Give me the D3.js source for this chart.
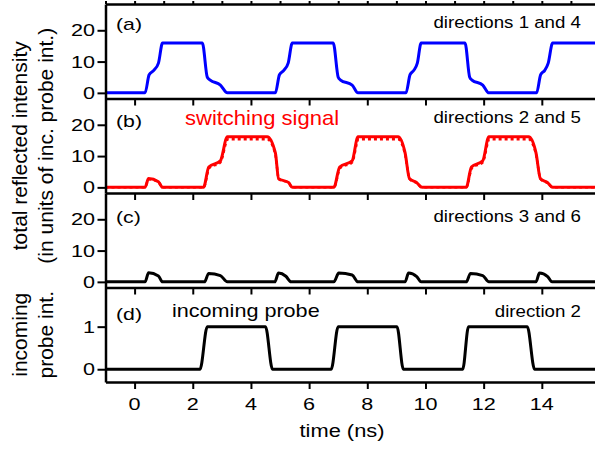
<!DOCTYPE html>
<html>
<head>
<meta charset="utf-8">
<script src="https://cdn.jsdelivr.net/npm/d3@7"></script>
<style>
  body { margin: 0; background: #fff; }
  svg { display: block; font-family: "Liberation Sans", Arial, sans-serif; }
</style>
</head>
<body>
<div id="chart"></div>
<script>
// time axis (ns)
var timeMajor = [0, 2, 4, 6, 8, 10, 12, 14];
var timeMinor = [-1, 1, 3, 5, 7, 9, 11, 13, 15];

// reflected intensity panels (a)-(c), incoming probe panel (d)
var intMajor = [0, 10, 20];
var intMinor = [5, 15, 25];
var probeMajor = [0, 1];
var probeMinor = [0.5, 1.5];

// (a) directions 1 and 4  [t, value]
var dir14 = [[-1,0],[0.36,0],[0.5,5.8],[0.66,7.2],[0.82,9.5],[0.96,15.9],[2.33,15.9],[2.5,5],[2.6,4.1],[2.95,2.5],[3.19,0],
  [4.84,0],[4.98,5.8],[5.13,7.2],[5.28,9.5],[5.42,15.9],[6.83,15.9],[7.0,5],[7.08,4.1],[7.48,2.5],[7.68,0],
  [9.33,0],[9.47,5.8],[9.6,7.2],[9.72,9.5],[9.85,15.9],[11.36,15.9],[11.52,5],[11.6,4.1],[11.97,2.5],[12.18,0],
  [13.82,0],[13.96,5.8],[14.1,7.2],[14.22,9.5],[14.37,15.9],[16,15.9]];

// (b) directions 2 and 5, solid and dotted
var dir25 = [[-1,0],[0.36,0],[0.48,2.8],[0.82,1.8],[0.96,0],
  [2.37,0],[2.55,6.5],[2.95,8.5],[3.19,16.2],[4.56,16.2],[4.84,11],[4.95,2.8],[5.3,1.5],[5.42,0],
  [6.85,0],[7.05,6.5],[7.48,8.5],[7.68,16.2],[9.06,16.2],[9.3,11],[9.45,2.8],[9.7,1.5],[9.88,0],
  [11.4,0],[11.58,6.5],[11.97,8.5],[12.18,16.2],[13.55,16.2],[13.8,11],[13.95,2.8],[14.2,1.5],[14.37,0],[16,0]];
var dir25b = [[-1,0],[0.36,0],[0.48,2.6],[0.82,1.7],[0.96,0],
  [2.37,0],[2.57,6.2],[2.95,8.0],[3.21,15.4],[4.56,15.4],[4.84,10.5],[4.96,2.6],[5.3,1.4],[5.42,0],
  [6.85,0],[7.07,6.2],[7.48,8.0],[7.7,15.4],[9.06,15.4],[9.3,10.5],[9.46,2.6],[9.7,1.4],[9.88,0],
  [11.4,0],[11.6,6.2],[11.97,8.0],[12.2,15.4],[13.55,15.4],[13.8,10.5],[13.96,2.6],[14.2,1.4],[14.37,0],[16,0]];

// (c) directions 3 and 6
var dir36 = [[-1,0],[0.36,0],[0.48,2.9],[0.82,1.9],[0.96,0],
  [2.4,0],[2.55,2.7],[2.95,2.0],[3.19,0],
  [4.82,0],[4.95,2.8],[5.2,1.8],[5.38,0],
  [6.85,0],[7.02,2.8],[7.48,2.2],[7.68,0],
  [9.3,0],[9.42,2.8],[9.7,1.7],[9.85,0],
  [11.4,0],[11.55,2.7],[11.97,2.0],[12.18,0],
  [13.8,0],[13.92,2.8],[14.2,1.7],[14.35,0],[16,0]];

// (d) incoming probe, direction 2
var probe = [[-1,0],[2.25,0],[2.5,1],[4.5,1],[4.74,0],[6.76,0],[7.0,1],[9.02,1],[9.24,0],
  [11.28,0],[11.48,1],[13.5,1],[13.75,0],[16,0]];

var W = 595, H = 452;
var svg = d3.select('#chart').append('svg').attr('width', W).attr('height', H);

var x = d3.scaleLinear().domain([-1, 16]).range([105.5, 600]);
var pTop = [4, 98.5, 193, 287.5], pH = 94.5;

function yScale(i, dom){
    return d3.scaleLinear().domain(dom).range([pTop[i] + pH, pTop[i]]);
}
var ys = [yScale(0, [-1.8, 28.4]), yScale(1, [-1.8, 28.4]), yScale(2, [-1.8, 28.4]), yScale(3, [-0.3, 1.92])];

function label(g, str, px, py, fs, sx, anchor, fill){
    return g.append('text')
        .attr('transform', 'translate(' + px + ',' + py + ') scale(' + sx + ',1)')
        .attr('text-anchor', anchor || 'start')
        .attr('fill', fill || '#000')
        .style('font-size', fs + 'px')
        .text(str);
}

function styleAxis(g){
    g.select('.domain').attr('stroke-width', 2.5);
    g.selectAll('.tick line').attr('stroke-width', 2);
}

var line = d3.line().x(function(d){ return x(d[0]); }).curve(d3.curveMonotoneX);

function drawSeries(i, data, color, dash){
    var y = ys[i];
    var p = svg.append('path').datum(data)
        .attr('d', line.y(function(d){ return y(d[1]); }))
        .attr('fill', 'none').attr('stroke', color)
        .attr('stroke-width', dash ? 2.5 : 3)
        .attr('stroke-linejoin', 'round');
    if (dash) p.attr('stroke-dasharray', dash);
}

drawSeries(0, dir14, '#0000ff');
drawSeries(1, dir25, '#ff0000');
drawSeries(1, dir25b, '#ff0000', '3,3');
drawSeries(2, dir36, '#000');
drawSeries(3, probe, '#000');

// axes
var ax = svg.append('g');
for (var i = 0; i < 4; i++){
    var y = ys[i];
    var maj = i < 3 ? intMajor : probeMajor;
    var mnr = i < 3 ? intMinor : probeMinor;
    var bottom = pTop[i] + pH;

    var gb = ax.append('g').attr('transform', 'translate(0,' + bottom + ')');
    gb.call(d3.axisBottom(x).tickValues(timeMinor).tickSize(4).tickSizeOuter(0).tickFormat(''));
    gb.call(d3.axisBottom(x).tickValues(timeMajor).tickSize(7).tickSizeOuter(0).tickFormat(''));
    styleAxis(gb);

    var gl = ax.append('g').attr('transform', 'translate(105.5,0)');
    gl.call(d3.axisLeft(y).tickValues(mnr).tickSize(4).tickSizeOuter(0).tickFormat(''));
    gl.call(d3.axisLeft(y).tickValues(maj).tickSize(8).tickSizeOuter(0).tickFormat(''));
    styleAxis(gl);

    maj.forEach(function(v){
        label(ax, v, 95, y(v) + 6, 16, 1.35, 'end');
    });
}
// top frame
var gt = ax.append('g').attr('transform', 'translate(0,' + pTop[0] + ')');
gt.call(d3.axisTop(x).tickValues(timeMinor.concat(timeMajor)).tickSize(3).tickSizeOuter(0).tickFormat(''));
styleAxis(gt);

timeMajor.forEach(function(v){
    label(ax, v, x(v), 410, 16, 1.35, 'middle');
});
label(ax, 'time (ns)', 342, 437, 19, 1.15, 'middle');

// y titles
var yc = (pTop[0] + pTop[2] + pH) / 2, yd = pTop[3] + pH / 2;
function vtext(str, px, py){
    svg.append('text').attr('transform', 'translate(' + px + ',' + py + ') rotate(-90)')
        .attr('text-anchor', 'middle').style('font-size', '21px').text(str);
}
vtext('total reflected intensity', 27, yc);
vtext('(in units of inc. probe int.)', 53, yc);
vtext('incoming', 27, yd);
vtext('probe int.', 53, yd);

// panel annotations
label(svg, '(a)', 116, 29.5, 16, 1.33);
label(svg, 'directions 1 and 4', 581, 27.5, 17, 1.1, 'end');
label(svg, '(b)', 116, 126.5, 16, 1.33);
label(svg, 'switching signal', 185, 125, 20, 1.1, 'start', '#ff0000');
label(svg, 'directions 2 and 5', 581, 123, 17, 1.1, 'end');
label(svg, '(c)', 116, 222.5, 16, 1.33);
label(svg, 'directions 3 and 6', 581, 221.5, 17, 1.1, 'end');
label(svg, '(d)', 116, 319.5, 16, 1.33);
label(svg, 'incoming probe', 172, 316.5, 18, 1.2);
label(svg, 'direction 2', 581, 316.5, 17, 1.1, 'end');
</script>
</body>
</html>
